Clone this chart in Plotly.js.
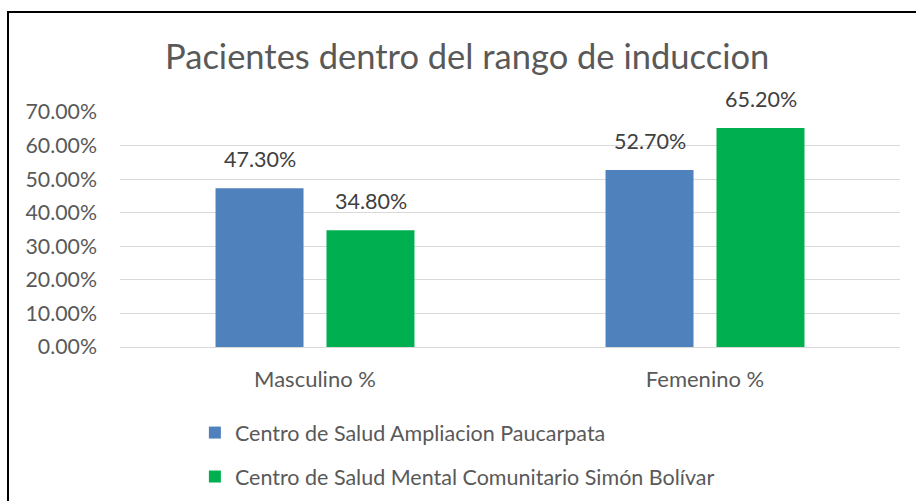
<!DOCTYPE html>
<html>
<head>
<meta charset="utf-8">
<script src="https://cdn.plot.ly/plotly-3.0.1.min.js"></script>
<style>
  html, body { margin: 0; padding: 0; background: #fff; }
  #wrap { position: relative; width: 916px; height: 501px; overflow: hidden; }
  #chart { width: 916px; height: 501px; }
  #frame { position: absolute; left: 7px; top: 11px; width: 1000px; height: 600px;
           border-left: 2px solid #000; border-top: 2px solid #000; pointer-events: none; }
</style>
</head>
<body>
<div id="wrap">
  <div id="chart"></div>
  <div id="frame"></div>
</div>
<script>
// data
const categories = ["Masculino %", "Femenino %"];
const seriesNames = ["Centro de Salud Ampliacion Paucarpata", "Centro de Salud Mental Comunitario Simón Bolívar"];
const valuesPaucarpata = [47.3, 52.7];
const valuesSimonBolivar = [34.8, 65.2];
const tickValues = [0, 10, 20, 30, 40, 50, 60, 70];
const tickLabels = ["0.00%", "10.00%", "20.00%", "30.00%", "40.00%", "50.00%", "60.00%", "70.00%"];

const FONT = "Lato, 'Open Sans', sans-serif";
const colors = ["#4F81BD", "#00B050"];
const seriesValues = [valuesPaucarpata, valuesSimonBolivar];

const traces = seriesValues.map((vals, i) => ({
  type: "bar",
  name: seriesNames[i],
  x: categories,
  y: vals,
  marker: { color: colors[i] },
  legendgroup: "g" + i,
  hoverinfo: "skip"
}));

const slotPx = 111;
const annotations = [];
seriesValues.forEach((vals, i) => {
  vals.forEach((v, j) => {
    annotations.push({
      x: categories[j], y: v, xref: "x", yref: "y",
      text: v.toFixed(2) + "%",
      showarrow: false,
      yanchor: "bottom",
      yshift: 14,
      xshift: (i === 0 ? -1 : 1) * slotPx / 2,
      font: { family: FONT, size: 21.5, color: "#404040" }
    });
  });
});

const layout = {
  width: 916, height: 501,
  margin: { l: 120, r: 16, t: 112, b: 154, autoexpand: false },
  paper_bgcolor: "#fff", plot_bgcolor: "#fff",
  title: {
    text: "Pacientes dentro del rango de induccion",
    xref: "container", yref: "container",
    x: 0.51, xanchor: "center", y: 1 - 57 / 501, yanchor: "middle",
    font: { family: FONT, size: 34.5, color: "#595959" }
  },
  barmode: "group",
  bargap: 0.431,
  bargroupgap: 0.207,
  xaxis: {
    type: "category",
    showgrid: false, zeroline: false, showline: false,
    ticks: "",
    ticklabelstandoff: 17,
    tickfont: { family: FONT, size: 22, color: "#595959" }
  },
  yaxis: {
    range: [0, 70],
    tickvals: tickValues, ticktext: tickLabels,
    showgrid: true, gridcolor: "#D9D9D9", gridwidth: 1,
    zeroline: true, zerolinecolor: "#D9D9D9", zerolinewidth: 1,
    showline: false, ticks: "",
    ticklabelstandoff: 22,
    tickfont: { family: FONT, size: 21.3, color: "#595959" }
  },
  showlegend: true,
  legend: {
    orientation: "v",
    x: 0.096, xanchor: "left",
    xref: "paper",
    y: -0.277, yanchor: "top",
    tracegroupgap: 13,
    font: { family: FONT, size: 21.5, color: "#595959" },
    bgcolor: "rgba(0,0,0,0)"
  },
  annotations: annotations
};

Plotly.newPlot("chart", traces, layout, { displayModeBar: false, staticPlot: true });
</script>
</body>
</html>
